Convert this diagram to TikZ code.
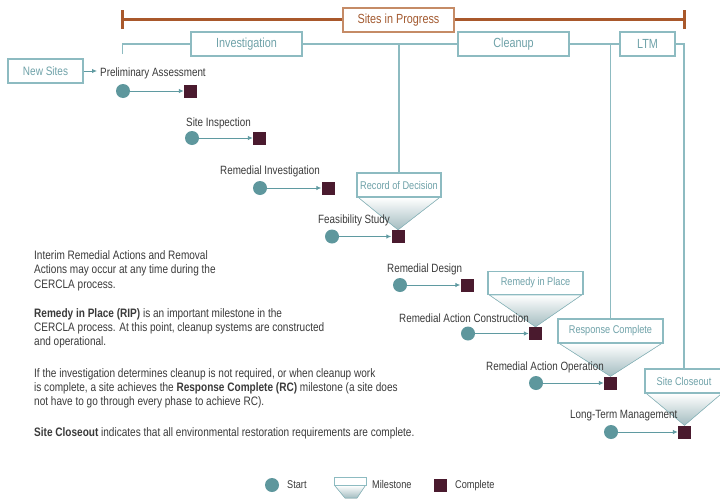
\documentclass[tikz,border=0pt]{standalone}
\usepackage{fontspec}
\setmainfont{Liberation Sans}[FakeStretch=0.82]
\usetikzlibrary{arrows.meta,backgrounds}
\definecolor{dotteal}{HTML}{5E979D}
\definecolor{tealline}{HTML}{8DBBC1}
\definecolor{tealarrow}{HTML}{5F9AA1}
\definecolor{tealtext}{HTML}{6FA2A9}
\definecolor{donecol}{HTML}{4A1A2E}
\definecolor{rust}{HTML}{A9582B}
\definecolor{rustbox}{HTML}{C58B66}
\definecolor{rusttext}{HTML}{A35A30}
\definecolor{funnelcol}{HTML}{A3BCC0}
\definecolor{txt}{HTML}{3A3A3A}
\begin{document}
\begin{tikzpicture}[x=1pt,y=-1pt,
  phase/.style={draw=tealline, line width=1.2pt, fill=white, text=tealtext,
    font=\fontsize{13.2}{15}\selectfont, minimum height=24, inner sep=0pt},
  ms/.style={draw=tealline, line width=1.1pt, fill=white, text=tealtext,
    font=\fontsize{11.2}{13}\selectfont, minimum height=24, inner sep=0pt},
  startdot/.style={circle, fill=dotteal, minimum size=14, inner sep=0pt},
  donebox/.style={fill=donecol, minimum size=13, inner sep=0pt},
  lbl/.style={anchor=base west, inner sep=0pt, text=txt, font=\fontsize{12}{14}\selectfont},
  lglbl/.style={anchor=base west, inner sep=0pt, text=txt, font=\fontsize{11.2}{13}\selectfont},
  flow/.style={draw=tealarrow, line width=0.9pt, -{Latex[length=5pt,width=4.5pt]}},
  tline/.style={draw=tealline, line width=1.2pt},
  funnelshape/.style={draw=tealline, line width=0.6pt, top color=white, bottom color=funnelcol},
  para/.style={anchor=north west, align=left, inner sep=0pt, text=txt, font=\fontsize{12.25}{14.3}\selectfont}
]
\useasboundingbox (0,0) rectangle (720,498);

% Sites in progress bar
\coordinate (bl) at (122.5,19.5);
\coordinate (br) at (684,19.5);
\draw[rust, line width=3pt] (bl) -- (br);
\draw[rust, line width=3pt] ([yshift=-9.5]bl) -- ([yshift=9.5]bl);
\draw[rust, line width=3pt] ([yshift=-9.5]br) -- ([yshift=9.5]br);
\node[phase, draw=rustbox, text=rusttext, minimum width=111] (sip) at (398.5,20) {Sites in Progress};

% phases
\node[phase, minimum width=111] (inv) at (246.5,44) {Investigation};
\node[phase, minimum width=111] (cln) at (513.5,44) {Cleanup};
\node[phase, minimum width=55] (ltm) at (647.5,44) {LTM};
\node[phase, minimum width=75, font=\fontsize{12.2}{14}\selectfont] (ns) at (45.5,71) {New Sites};

% steps
\node[startdot] (c1) at (123,91) {};
\node[donebox] (s1) at (190.5,91) {};
\node[startdot] (c2) at (192,138) {};
\node[donebox] (s2) at (259.5,138) {};
\node[startdot] (c3) at (260,188) {};
\node[donebox] (s3) at (328,188) {};
\node[startdot] (c4) at (332,236.5) {};
\node[donebox] (s4) at (398,236.5) {};
\node[startdot] (c5) at (400,285) {};
\node[donebox] (s5) at (467,285) {};
\node[startdot] (c6) at (468,333.5) {};
\node[donebox] (s6) at (535.5,333.5) {};
\node[startdot] (c7) at (536,383) {};
\node[donebox] (s7) at (610.5,383) {};
\node[startdot] (c8) at (611,432) {};
\node[donebox] (s8) at (684.5,432) {};

% milestones
\node[ms, minimum width=84] (rod) at (399,185) {Record of Decision};
\node[ms, minimum width=95, minimum height=23] (rip) at (535.5,283) {Remedy in Place};
\node[ms, minimum width=105] (rc) at (610.5,331) {Response Complete};
\node[ms, minimum width=78] (sc) at (684,381) {Site Closeout};

\begin{scope}[on background layer]
\filldraw[funnelshape] ([xshift=2]rod.south west) -- ([xshift=-2]rod.south east) -- (s4.north) -- cycle;
\filldraw[funnelshape] ([xshift=2]rip.south west) -- ([xshift=-2]rip.south east) -- (s6.north) -- cycle;
\filldraw[funnelshape] ([xshift=2]rc.south west) -- ([xshift=-2]rc.south east) -- (s7.north) -- cycle;
\filldraw[funnelshape] ([xshift=2]sc.south west) -- ([xshift=-2]sc.south east) -- (s8.north) -- cycle;
\end{scope}

% teal frame lines
\coordinate (tl) at (122.5,54);
\draw[tline] (tl) |- (inv.west) (inv.east) -- (cln.west) (cln.east) -- (ltm.west) (ltm.east) -| (sc.north);
\draw[tline] (rod.north) -- (rod.north |- inv.east);
\draw[tline] (rc.north) -- (rc.north |- cln.east);

% labels
\node[lbl] (l1) at (100,76) {Preliminary Assessment};
\node[lbl] (l2) at (186,126) {Site Inspection};
\node[lbl] (l3) at (220,174) {Remedial Investigation};
\node[lbl] (l4) at (318,223) {Feasibility Study};
\node[lbl] (l5) at (387,272) {Remedial Design};
\node[lbl] (l6) at (399,322) {Remedial Action Construction};
\node[lbl] (l7) at (486,370) {Remedial Action Operation};
\node[lbl] (l8) at (570,418) {Long-Term Management};

\draw[flow, shorten >=3pt] (ns.east) -- (ns.east -| l1.west);
\foreach \i in {1,...,8} { \draw[flow] (c\i) -- (s\i); }

% paragraphs
\node[para] (p1) at (34,250.4) {Interim Remedial Actions and Removal\\Actions may occur at any time during the\\CERCLA process.};
\node[para] (p2) at (34,308.2) {\textbf{Remedy in Place (RIP)} is an important milestone in the\\CERCLA process. At this point, cleanup systems are constructed\\and operational.};
\node[para] (p3) at (34,368.2) {If the investigation determines cleanup is not required, or when cleanup work\\is complete, a site achieves the \textbf{Response Complete (RC)} milestone (a site does\\not have to go through every phase to achieve RC).};
\node[para] (p4) at (34,427.4) {\textbf{Site Closeout} indicates that all environmental restoration requirements are complete.};

% legend
\node[startdot] (lgs) at (272,485) {};
\node[lglbl] (lgst) at (287,488) {Start};
\node[draw=tealline, line width=0.8pt, fill=white, minimum width=32, minimum height=8, inner sep=0pt] (lgm) at (350,481) {};
\begin{scope}[on background layer]
\filldraw[funnelshape] ([xshift=1]lgm.south west) -- ([xshift=-1]lgm.south east) -- (357,498) -- (345,498) -- cycle;
\end{scope}
\node[lglbl] (lgmt) at (372,488) {Milestone};
\node[donebox] (lgc) at (440.5,485) {};
\node[lglbl] (lgct) at (455,488) {Complete};
\end{tikzpicture}
\end{document}
